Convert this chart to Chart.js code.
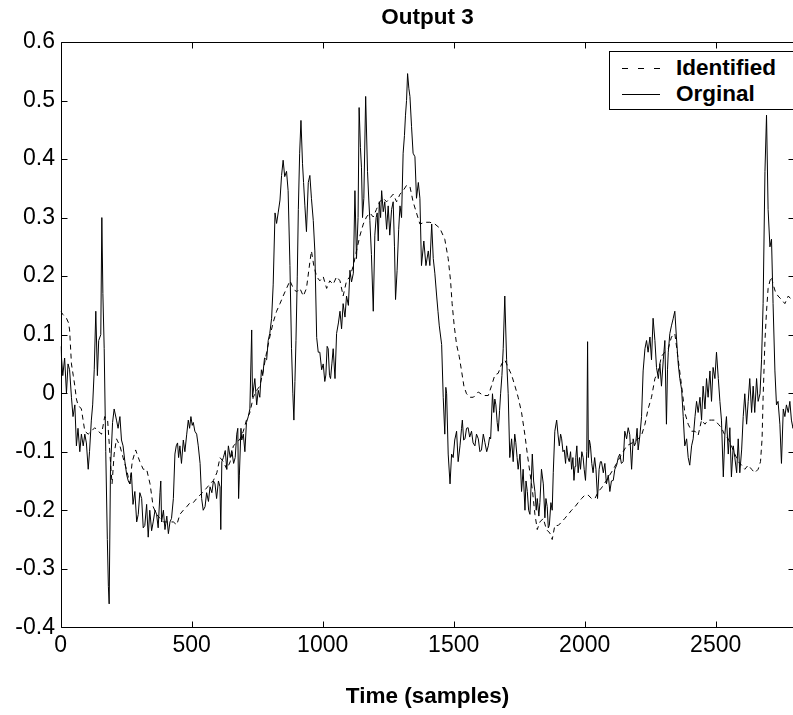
<!DOCTYPE html>
<html>
<head>
<meta charset="utf-8">
<script src="https://cdn.jsdelivr.net/npm/chart.js@4.4.1/dist/chart.umd.min.js"></script>
<style>
  html, body { margin: 0; padding: 0; background: #fff; overflow: hidden; }
  #wrap { position: relative; width: 793px; height: 715px; overflow: hidden; }
  #c { position: absolute; left: 0; top: 0; }
  #legend { position: absolute; left: 609px; top: 51px; width: 183px; height: 57px;
            border: 1px solid #000; background: #fff; box-sizing: content-box;
            font-family: "Liberation Sans", Arial, sans-serif; font-weight: bold; font-size: 22.5px; color: #000; }
  .row { position: absolute; left: 0; height: 26px; line-height: 26px; white-space: nowrap; }
  .row svg { position: absolute; left: 12px; top: 0; }
  .row span { position: absolute; left: 66px; top: 0; }
</style>
</head>
<body>
<div id="wrap">
  <canvas id="c" width="800" height="715" style="width:800px;height:715px"></canvas>
  <div id="legend"></div>
</div>
<script>
// ---- Data ----
const chartTitle = 'Output 3';
const xAxisTitle = 'Time (samples)';
const seriesNames = ['Identified', 'Orginal'];

const xTickValues = [0, 500, 1000, 1500, 2000, 2500];
const xTickLabels = ['0', '500', '1000', '1500', '2000', '2500'];
const yTickValues = [-0.4, -0.3, -0.2, -0.1, 0, 0.1, 0.2, 0.3, 0.4, 0.5, 0.6];
const yTickLabels = ['-0.4', '-0.3', '-0.2', '-0.1', '0', '0.1', '0.2', '0.3', '0.4', '0.5', '0.6'];

// Original (solid) series: sample index and value
const origT = [0,8,15,22,28,34,41,47,54,60,66,73,79,86,92,98,105,110,117,122,128,134,140,145,153,157,161,166,172,178,182,185,190,198,204,213,219,226,232,238,245,252,258,264,270,276,283,290,296,302,309,315,321,328,334,340,347,353,360,366,372,379,382,385,392,398,405,411,417,423,430,436,441,446,450,455,461,468,474,481,487,492,497,502,506,512,519,525,532,538,544,551,557,564,570,577,583,589,595,602,608,611,615,621,628,634,640,647,653,660,666,672,676,679,682,688,691,697,703,709,716,722,729,732,741,748,754,760,766,771,778,786,792,798,805,811,818,824,830,837,843,849,855,862,868,875,881,886,890,894,898,903,907,912,917,923,927,932,938,945,951,957,964,970,977,983,989,996,1002,1008,1012,1017,1021,1026,1030,1035,1040,1047,1053,1060,1066,1072,1078,1085,1091,1098,1104,1110,1117,1123,1129,1135,1139,1144,1148,1152,1157,1164,1171,1176,1180,1186,1193,1199,1204,1208,1212,1216,1221,1225,1231,1237,1244,1250,1256,1263,1269,1274,1278,1284,1290,1295,1301,1307,1312,1316,1320,1324,1329,1333,1339,1345,1352,1358,1365,1371,1377,1386,1394,1403,1409,1416,1422,1428,1435,1440,1445,1454,1460,1466,1470,1473,1479,1486,1492,1498,1504,1511,1517,1524,1530,1533,1538,1543,1549,1555,1561,1568,1574,1581,1587,1594,1600,1606,1613,1619,1626,1632,1637,1641,1648,1653,1657,1661,1666,1670,1675,1679,1684,1689,1695,1702,1708,1714,1721,1727,1733,1737,1742,1746,1753,1759,1765,1772,1776,1781,1786,1791,1796,1800,1805,1810,1815,1819,1825,1829,1835,1842,1848,1852,1857,1861,1865,1871,1876,1880,1886,1893,1898,1903,1908,1912,1917,1922,1927,1931,1936,1941,1946,1950,1955,1959,1963,1966,1970,1975,1980,1984,1989,1994,1998,2003,2008,2011,2014,2018,2022,2027,2032,2038,2043,2049,2055,2060,2064,2071,2077,2083,2090,2096,2102,2109,2115,2122,2128,2134,2140,2147,2153,2160,2166,2172,2179,2185,2190,2195,2200,2204,2211,2217,2223,2230,2236,2242,2249,2255,2261,2268,2274,2281,2287,2293,2300,2306,2312,2316,2319,2325,2331,2338,2344,2350,2357,2363,2370,2376,2382,2389,2395,2401,2408,2414,2421,2427,2433,2440,2446,2452,2459,2465,2471,2478,2484,2490,2497,2503,2510,2516,2522,2529,2535,2541,2548,2554,2560,2567,2573,2580,2586,2592,2599,2605,2611,2618,2624,2630,2637,2643,2649,2656,2662,2669,2675,2681,2688,2694,2700,2707,2713,2719,2726,2732,2738,2745,2751,2758,2764,2770,2777,2783,2789,2795,2800];
const origV = [0.08,0.03,0.06,0.0,0.05,0.04,-0.007,-0.04,-0.02,-0.09,-0.06,-0.10,-0.07,-0.09,-0.07,-0.085,-0.13,-0.10,-0.046,-0.02,0.04,0.14,0.03,0.09,0.10,0.30,0.17,0.076,-0.10,-0.25,-0.33,-0.36,-0.13,-0.05,-0.027,-0.046,-0.06,-0.04,-0.08,-0.09,-0.117,-0.14,-0.15,-0.155,-0.136,-0.19,-0.168,-0.22,-0.207,-0.17,-0.18,-0.23,-0.226,-0.19,-0.246,-0.20,-0.235,-0.22,-0.20,-0.207,-0.23,-0.17,-0.15,-0.22,-0.20,-0.233,-0.21,-0.24,-0.22,-0.214,-0.18,-0.104,-0.09,-0.085,-0.11,-0.09,-0.12,-0.08,-0.10,-0.07,-0.046,-0.06,-0.04,-0.055,-0.05,-0.065,-0.07,-0.09,-0.12,-0.18,-0.20,-0.194,-0.17,-0.185,-0.16,-0.17,-0.15,-0.155,-0.18,-0.15,-0.16,-0.233,-0.117,-0.11,-0.098,-0.13,-0.09,-0.11,-0.098,-0.12,-0.11,-0.07,-0.06,-0.18,-0.14,-0.06,-0.08,-0.07,-0.10,-0.05,-0.04,-0.027,0.108,-0.007,0.025,-0.02,0.005,-0.007,0.04,0.03,0.06,0.057,0.09,0.102,0.128,0.185,0.308,0.29,0.308,0.33,0.372,0.398,0.37,0.379,0.346,0.218,0.076,0.0,-0.046,0.02,0.09,0.20,0.314,0.41,0.466,0.392,0.36,0.32,0.276,0.36,0.372,0.333,0.295,0.243,0.095,0.07,0.07,0.04,0.05,0.02,0.031,0.08,0.076,0.03,0.025,0.05,0.076,0.025,0.102,0.12,0.14,0.11,0.153,0.13,0.166,0.15,0.21,0.19,0.205,0.346,0.23,0.30,0.488,0.42,0.385,0.30,0.333,0.507,0.379,0.33,0.295,0.237,0.14,0.27,0.30,0.308,0.26,0.327,0.30,0.346,0.31,0.327,0.28,0.32,0.27,0.314,0.327,0.25,0.16,0.21,0.28,0.32,0.30,0.41,0.44,0.475,0.50,0.546,0.52,0.507,0.456,0.41,0.404,0.333,0.36,0.333,0.218,0.26,0.218,0.243,0.218,0.289,0.23,0.205,0.166,0.14,0.115,0.083,-0.007,-0.07,0.01,-0.001,-0.104,-0.155,-0.104,-0.11,-0.08,-0.065,-0.117,-0.09,-0.06,-0.046,-0.08,-0.078,-0.06,-0.059,-0.075,-0.065,-0.085,-0.09,-0.07,-0.078,-0.10,-0.097,-0.07,-0.084,-0.10,-0.09,-0.075,-0.078,-0.001,-0.033,-0.01,-0.02,-0.05,-0.065,-0.03,-0.001,0.03,0.076,0.166,0.057,-0.001,-0.11,-0.078,-0.117,-0.07,-0.084,-0.11,-0.13,-0.104,-0.168,-0.13,-0.20,-0.15,-0.168,-0.20,-0.207,-0.15,-0.104,-0.15,-0.168,-0.20,-0.18,-0.21,-0.187,-0.13,-0.155,-0.213,-0.18,-0.194,-0.23,-0.226,-0.187,-0.20,-0.136,-0.065,-0.046,-0.07,-0.09,-0.07,-0.078,-0.10,-0.097,-0.12,-0.09,-0.11,-0.117,-0.10,-0.13,-0.11,-0.149,-0.125,-0.11,-0.09,-0.136,-0.11,-0.13,-0.10,-0.11,-0.13,-0.149,-0.10,0.088,-0.11,-0.08,-0.09,-0.12,-0.136,-0.11,-0.13,-0.18,-0.13,-0.117,-0.117,-0.136,-0.12,-0.155,-0.14,-0.168,-0.15,-0.149,-0.13,-0.123,-0.11,-0.104,-0.12,-0.117,-0.065,-0.078,-0.059,-0.071,-0.13,-0.078,-0.09,-0.084,-0.06,-0.097,-0.071,-0.04,0.038,0.076,0.09,0.07,0.096,0.057,0.128,0.09,0.044,0.025,0.05,0.012,0.057,0.09,-0.053,0.04,0.07,0.102,0.115,0.128,0.14,0.096,0.05,0.025,0.006,-0.04,-0.09,-0.078,-0.11,-0.123,-0.09,-0.078,-0.04,-0.014,-0.033,-0.007,-0.046,0.012,-0.027,0.025,-0.007,0.038,-0.014,0.044,0.025,0.07,0.025,-0.014,-0.046,-0.143,-0.071,-0.04,-0.104,-0.059,-0.143,-0.09,-0.11,-0.136,-0.078,-0.136,-0.097,-0.04,-0.001,-0.053,-0.014,0.025,-0.033,0.012,-0.033,0.025,-0.014,-0.001,0.057,0.153,0.379,0.475,0.314,0.25,0.263,0.153,0.038,-0.02,-0.014,-0.053,-0.12,-0.027,-0.04,-0.02,-0.033,-0.014,-0.046,-0.06,-0.05];

// Identified (dashed) series: sample index and value
const identT = [0,9,22,30,34,41,48,54,60,66,79,92,105,117,130,143,156,168,179,188,196,204,213,226,238,251,264,273,286,302,315,328,341,353,366,379,392,404,417,430,443,455,468,481,494,506,519,532,545,557,570,583,596,608,621,634,647,659,672,685,697,709,722,735,748,760,773,786,798,811,824,837,849,862,875,888,900,913,926,938,951,957,966,977,989,1002,1015,1027,1040,1053,1066,1078,1091,1104,1117,1129,1142,1155,1167,1180,1193,1205,1218,1231,1244,1256,1269,1282,1295,1307,1320,1333,1345,1358,1371,1390,1409,1428,1447,1466,1479,1488,1494,1502,1511,1521,1530,1539,1549,1562,1575,1594,1613,1632,1644,1657,1670,1683,1695,1708,1721,1734,1746,1759,1772,1781,1791,1801,1810,1819,1829,1842,1854,1867,1876,1886,1899,1912,1924,1937,1950,1963,1975,1988,2001,2013,2026,2039,2052,2064,2083,2109,2134,2160,2185,2204,2217,2230,2242,2255,2268,2281,2293,2306,2319,2331,2344,2357,2370,2382,2395,2408,2421,2433,2446,2459,2471,2484,2497,2510,2522,2535,2548,2560,2573,2586,2599,2611,2624,2637,2649,2662,2671,2677,2681,2688,2694,2700,2707,2713,2719,2728,2738,2751,2764,2777,2789,2800];
const identV = [0.14,0.134,0.128,0.12,0.108,0.05,0.03,0.012,-0.01,-0.02,-0.027,-0.065,-0.07,-0.065,-0.059,-0.065,-0.07,-0.04,-0.046,-0.104,-0.155,-0.104,-0.078,-0.09,-0.11,-0.13,-0.155,-0.117,-0.097,-0.117,-0.13,-0.13,-0.155,-0.194,-0.207,-0.214,-0.22,-0.22,-0.22,-0.22,-0.225,-0.207,-0.20,-0.194,-0.187,-0.187,-0.18,-0.174,-0.168,-0.162,-0.155,-0.149,-0.136,-0.11,-0.117,-0.13,-0.117,-0.09,-0.085,-0.078,-0.065,-0.046,-0.033,-0.007,0.005,0.012,0.038,0.07,0.096,0.121,0.14,0.153,0.166,0.179,0.192,0.179,0.173,0.179,0.166,0.179,0.224,0.243,0.218,0.199,0.192,0.199,0.179,0.192,0.186,0.199,0.192,0.166,0.192,0.199,0.218,0.243,0.269,0.289,0.301,0.308,0.301,0.314,0.327,0.333,0.327,0.333,0.34,0.327,0.34,0.346,0.355,0.353,0.327,0.308,0.289,0.292,0.292,0.289,0.282,0.263,0.23,0.192,0.153,0.115,0.083,0.063,0.038,0.012,-0.001,-0.007,-0.007,0.002,-0.004,-0.004,0.012,0.031,0.034,0.05,0.057,0.044,0.031,0.012,-0.007,-0.033,-0.072,-0.104,-0.136,-0.168,-0.207,-0.233,-0.22,-0.214,-0.233,-0.239,-0.25,-0.226,-0.226,-0.22,-0.214,-0.207,-0.20,-0.194,-0.187,-0.18,-0.174,-0.174,-0.18,-0.18,-0.168,-0.162,-0.149,-0.13,-0.11,-0.09,-0.084,-0.078,-0.072,-0.053,-0.027,-0.007,0.025,0.038,0.063,0.07,0.076,0.096,0.102,0.057,0.012,-0.033,-0.053,-0.065,-0.065,-0.072,-0.046,-0.053,-0.046,-0.046,-0.046,-0.053,-0.059,-0.072,-0.078,-0.09,-0.104,-0.117,-0.123,-0.13,-0.123,-0.13,-0.136,-0.13,-0.117,-0.078,-0.007,0.09,0.14,0.179,0.192,0.199,0.186,0.173,0.166,0.16,0.153,0.166,0.16,0.16];

// ---- Chart ----
const FONT = '"Liberation Sans", Arial, Helvetica, sans-serif';
const toPoints = (ts, vs) => ts.map((t, i) => ({ x: t, y: vs[i] }));

const PLOT_LEFT = 60.7, PLOT_TOP = 42, PLOT_BOTTOM_SPACE = 87.7, PLOT_RIGHT = 794.3;

const frameTicks = {
  id: 'frameTicks',
  afterDatasetsDraw(chart) {
    const { ctx, chartArea: a, scales: { x, y } } = chart;
    ctx.save();
    ctx.strokeStyle = '#000';
    ctx.lineWidth = 1;
    ctx.beginPath();
    const L = Math.round(a.left) + 0.5, T = Math.round(a.top) + 0.5, B = Math.round(a.bottom) + 0.5, R = Math.round(a.right) + 0.5;
    ctx.moveTo(L, T); ctx.lineTo(R, T); ctx.lineTo(R, B); ctx.lineTo(L, B); ctx.closePath();
    const tl = 6;
    xTickValues.forEach(v => {
      const px = Math.round(x.getPixelForValue(v)) + 0.5;
      ctx.moveTo(px, B); ctx.lineTo(px, B - tl);
      ctx.moveTo(px, T); ctx.lineTo(px, T + tl);
    });
    yTickValues.forEach(v => {
      const py = Math.round(y.getPixelForValue(v)) + 0.5;
      ctx.moveTo(L, py); ctx.lineTo(L + tl, py);
      ctx.moveTo(R, py); ctx.lineTo(R - tl, py);
    });
    ctx.stroke();
    ctx.restore();
  }
};

const chart = new Chart(document.getElementById('c'), {
  type: 'line',
  data: {
    datasets: [
      { label: seriesNames[0], data: toPoints(identT, identV), borderColor: '#000', borderWidth: 1,
        borderDash: [5, 4], pointRadius: 0, tension: 0, fill: false },
      { label: seriesNames[1], data: toPoints(origT, origV), borderColor: '#000', borderWidth: 1,
        pointRadius: 0, tension: 0, fill: false }
    ]
  },
  options: {
    responsive: false,
    animation: false,
    devicePixelRatio: 1,
    layout: { padding: { left: 0, top: 0, bottom: 0, right: 800 - PLOT_RIGHT } },
    plugins: {
      legend: { display: false },
      tooltip: { enabled: false },
      title: {
        display: true, text: chartTitle, color: '#000', fullSize: false,
        font: { family: FONT, size: 22.5, weight: 'bold' },
        padding: { top: 4, bottom: PLOT_TOP - 4 - 27 }
      }
    },
    scales: {
      x: {
        type: 'linear', min: 0, max: 2800,
        grid: { display: false, drawTicks: false },
        border: { display: false },
        afterBuildTicks: s => { s.ticks = xTickValues.map(v => ({ value: v })); },
        afterFit: s => { s.height = PLOT_BOTTOM_SPACE; },
        ticks: {
          color: '#000', padding: 4.5, maxRotation: 0, autoSkip: false,
          font: { family: FONT, size: 23 },
          callback: (v, i) => xTickLabels[i]
        },
        title: {
          display: true, text: xAxisTitle, color: '#000',
          font: { family: FONT, size: 22.5, weight: 'bold' },
          padding: { top: 4, bottom: 4.5 }
        }
      },
      y: {
        type: 'linear', min: -0.4, max: 0.6,
        grid: { display: false, drawTicks: false },
        border: { display: false },
        afterBuildTicks: s => { s.ticks = yTickValues.map(v => ({ value: v })); },
        afterFit: s => { s.width = PLOT_LEFT; },
        ticks: {
          color: '#000', padding: 5.7, autoSkip: false,
          font: { family: FONT, size: 23 },
          callback: (v, i) => yTickLabels[i]
        }
      }
    }
  },
  plugins: [frameTicks]
});

// ---- HTML legend built from the datasets ----
const legendEl = document.getElementById('legend');
chart.data.datasets.forEach((ds, i) => {
  const row = document.createElement('div');
  row.className = 'row';
  row.style.top = (3 + i * 26) + 'px';
  const dash = ds.borderDash ? 'stroke-dasharray="6,10"' : '';
  row.innerHTML = '<svg width="40" height="26"><line x1="0" y1="13.5" x2="38" y2="13.5" stroke="#000" stroke-width="1" ' + dash + '/></svg>';
  const sp = document.createElement('span');
  sp.textContent = ds.label;
  row.appendChild(sp);
  legendEl.appendChild(row);
});
</script>
</body>
</html>
